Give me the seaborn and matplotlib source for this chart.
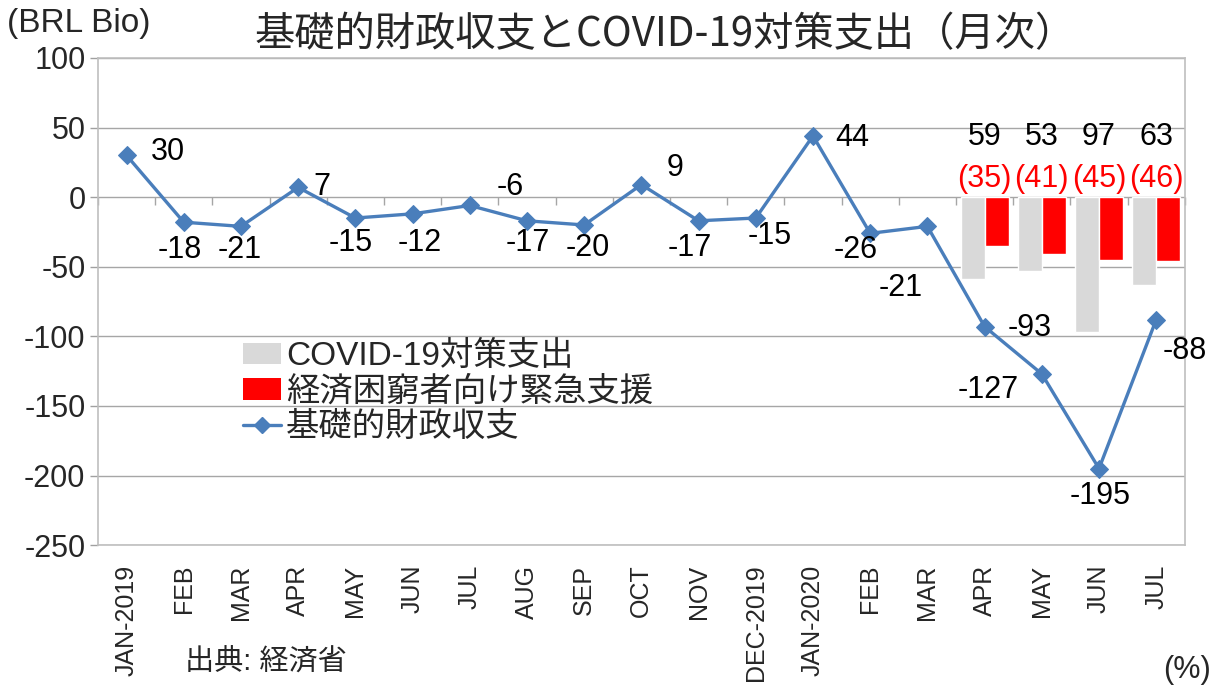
#!/usr/bin/env python3
"""
Primary balance and COVID-19 spending (monthly), Brazil.
"""
import matplotlib
matplotlib.use('Agg')
import matplotlib.pyplot as plt
from matplotlib.patches import Patch
from matplotlib.lines import Line2D
import seaborn as sns
import pandas as pd
import numpy as np

# Data
month_keys = ['2019-01', '2019-02', '2019-03', '2019-04', '2019-05', '2019-06',
              '2019-07', '2019-08', '2019-09', '2019-10', '2019-11', '2019-12',
              '2020-01', '2020-02', '2020-03', '2020-04', '2020-05', '2020-06',
              '2020-07']
tick_labels = ['JAN-2019', 'FEB', 'MAR', 'APR', 'MAY', 'JUN', 'JUL', 'AUG',
               'SEP', 'OCT', 'NOV', 'DEC-2019', 'JAN-2020', 'FEB', 'MAR',
               'APR', 'MAY', 'JUN', 'JUL']
primary_balance = [30, -18, -21, 7, -15, -12, -6, -17, -20, 9, -17, -15,
                   44, -26, -21, -93, -127, -195, -88]
covid_months = ['2020-04', '2020-05', '2020-06', '2020-07']
covid_spending = [-59, -53, -97, -63]
emergency_aid = [-35, -41, -45, -46]

series_covid = 'COVID-19対策支出'
series_aid = '経済困窮者向け緊急支援'
series_line = '基礎的財政収支'

# label offsets for the line values (pixels, dx right, dy down)
label_offsets = [(41, -3), (-4, 28), (-1, 24), (24, 0), (-5, 25), (7, 29),
                 (40, -18), (1, 22), (4, 23), (34, -17), (-9, 27), (14, 18),
                 (39, 2), (-15, 17), (-27, 62), (45, 1), (-54, 16), (1, 27),
                 (29, 31)]

LATIN_JP = ['Liberation Sans', 'Noto Sans CJK JP']
BLUE = '#4A7EBB'
GRAY = '#D9D9D9'
RED = '#FF0000'

sns.set_theme(style='white')
plt.rcParams['font.family'] = LATIN_JP

line_df = pd.DataFrame({'month': month_keys, 'value': primary_balance})
line_df['pos'] = np.arange(len(month_keys))

bar_df = pd.DataFrame({
    'month': covid_months * 2,
    'value': covid_spending + emergency_aid,
    'series': [series_covid] * len(covid_months) + [series_aid] * len(covid_months),
})

fig = plt.figure(figsize=(12.09, 6.98), dpi=100)
ax = fig.add_axes([0.081, 0.219, 0.899, 0.698])

sns.barplot(data=bar_df, x='month', y='value', hue='series', order=month_keys,
            hue_order=[series_covid, series_aid], palette=[GRAY, RED],
            width=0.84, ax=ax, legend=False, saturation=1)
sns.lineplot(data=line_df, x='pos', y='value', color=BLUE, linewidth=2.4,
             marker='D', markersize=9, markeredgecolor=BLUE, ax=ax,
             legend=False)

# value labels for the line
for (x, y), (dx, dy) in zip(zip(line_df['pos'], line_df['value']), label_offsets):
    ax.annotate(f'{y}', xy=(x, y), xytext=(dx * 0.72, -dy * 0.72),
                textcoords='offset points', ha='center', va='center',
                fontsize=22, color='black')

# COVID spending labels above the zero line
for m, c, a in zip(covid_months, covid_spending, emergency_aid):
    i = month_keys.index(m)
    ax.text(i, 43, f'{-c}', ha='center', va='center', fontsize=22, color='black')
    ax.text(i, 13, f'({-a})', ha='center', va='center', fontsize=22, color=RED)

ax.set_xlim(-0.5, len(month_keys) - 0.5)
ax.set_ylim(-250, 100)
ax.set_yticks(np.arange(-250, 101, 50))
ax.set_yticklabels([str(v) for v in range(-250, 101, 50)], fontsize=22)
ax.set_xticks(np.arange(len(month_keys)))
ax.set_xticklabels(tick_labels, rotation=90, fontsize=18)
ax.tick_params(axis='x', length=0, pad=14)
ax.tick_params(axis='y', length=6, width=1, color='#A0A0A0', left=True, pad=3)
ax.set_xlabel('')
ax.set_ylabel('')
ax.grid(True, axis='y', color='#A6A6A6', linewidth=1)
ax.set_axisbelow(True)
for sp in ax.spines.values():
    sp.set_color('#BFBFBF')
    sp.set_linewidth(1.2)

# category tick marks along the zero line
zero_loc = (0 - (-250)) / 350
sec = ax.secondary_xaxis(zero_loc)
sec.set_xticks(np.arange(len(month_keys) + 1) - 0.5)
sec.set_xticklabels([])
sec.tick_params(axis='x', direction='in', length=6, color='#A6A6A6', width=1)
sec.spines['bottom'].set_visible(False)
sec.spines['top'].set_visible(False)

handles = [Patch(facecolor=GRAY, edgecolor='none', label=series_covid),
           Patch(facecolor=RED, edgecolor='none', label=series_aid),
           Line2D([0], [0], color=BLUE, linewidth=2.4, marker='D',
                  markersize=8, label=series_line)]
ax.legend(handles=handles, loc='upper left', bbox_to_anchor=(0.121, 0.446),
          frameon=False, fontsize=24, handlelength=1.15, handleheight=0.6,
          handletextpad=0.15, labelspacing=0.12, borderaxespad=0)

fig.text(0.55, 0.95, '基礎的財政収支とCOVID-19対策支出（月次）', ha='center',
         va='center', fontsize=29, family=['Noto Sans CJK JP', 'DejaVu Sans'])
fig.text(0.006, 0.966, '(BRL Bio)', ha='left', va='center', fontsize=24)
fig.text(0.153, 0.052, '出典: 経済省', ha='left', va='center', fontsize=21)
fig.text(0.962, 0.04, '(%)', ha='left', va='center', fontsize=22)

fig.savefig('out.png', dpi=100)
print("Plot saved to: out.png")
